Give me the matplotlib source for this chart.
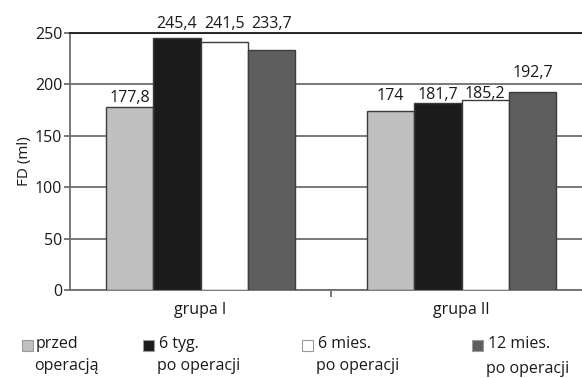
import matplotlib.pyplot as plt
from matplotlib.patches import Rectangle

plt.rcParams['font.family'] = ['Open Sans', 'DejaVu Sans']

# --- data --------------------------------------------------------------
groups = ["grupa I", "grupa II"]
series = ["przed\noperacją", "6 tyg.\npo operacji", "6 mies.\npo operacji", "12 mies.\npo operacji"]
przed = [177.8, 174]
tyg6 = [245.4, 181.7]
mies6 = [241.5, 185.2]
mies12 = [233.7, 192.7]
value_text = [["177,8", "174"], ["245,4", "181,7"], ["241,5", "185,2"], ["233,7", "192,7"]]
# gap (px) between bar top and label baseline, per series / group
label_gap = [[5, 11], [10, 4], [14, 2], [22, 15]]

colors = ["#c0c0c0", "#1c1c1c", "#ffffff", "#5e5e5e"]
edge = "#3c3c3c"
grid_c = "#6e6e6e"

fig = plt.figure(figsize=(5.82, 3.78), dpi=100)
ax = fig.add_axes([70 / 582, 1 - 290 / 378, 522 / 582, 257 / 378])

width = 0.181
xs = range(len(groups))
for i, vals in enumerate([przed, tyg6, mies6, mies12]):
    pos = [x + (i - 1.5) * width for x in xs]
    bars = ax.bar(pos, vals, width=width, color=colors[i], edgecolor=edge,
                  linewidth=1.0, zorder=3)
    for j, (b, txt) in enumerate(zip(bars, value_text[i])):
        ax.annotate(txt, (b.get_x() + b.get_width() / 2, b.get_height()),
                    xytext=(0, label_gap[i][j] * 0.72), textcoords="offset points",
                    ha="center", va="baseline", fontsize=11.5, color="#1a1a1a")

ax.set_xlim(-0.5, 1.5)
ax.set_ylim(0, 250)
ax.set_yticks(range(0, 251, 50))
ax.yaxis.grid(True, color=grid_c, linewidth=1.3, zorder=0)
ax.set_axisbelow(True)

ax.set_xticks(list(xs))
ax.set_xticklabels(groups, fontsize=11.5, color="#1a1a1a")
ax.set_xticks([0.5], minor=True)
ax.tick_params(axis="x", which="major", length=0, pad=9)
ax.tick_params(axis="x", which="minor", length=5, width=1.3, color=grid_c)
ax.tick_params(axis="y", length=4.5, width=1.3, color=grid_c, labelsize=11.5,
               labelcolor="#1a1a1a", pad=1)

for s in ["left", "bottom"]:
    ax.spines[s].set_color(grid_c)
    ax.spines[s].set_linewidth(1.3)
ax.spines["right"].set_visible(False)
ax.spines["top"].set_color("#1a1a1a")
ax.spines["top"].set_linewidth(1.3)

ax.set_ylabel("FD (ml)", fontsize=11, color="#1a1a1a", labelpad=2)

# --- legend drawn by hand below the axes -------------------------------
box_x = [22, 143, 302, 472]
text_x = [36, 159, 318, 488]
line2_y = [366, 366, 366, 369]
for i, lab in enumerate(series):
    top, bottom = lab.split("\n")
    fig.patches.append(Rectangle((box_x[i] / 582, 1 - 351 / 378), 11 / 582, 11 / 378,
                                 transform=fig.transFigure, facecolor=colors[i],
                                 edgecolor="#9a9a9a", linewidth=0.8))
    fig.text(text_x[i] / 582, 1 - 344 / 378, top, fontsize=11.5,
             va="center", ha="left", color="#1a1a1a")
    fig.text((text_x[i] - 2) / 582, 1 - line2_y[i] / 378, bottom, fontsize=11.5,
             va="center", ha="left", color="#1a1a1a")

fig.savefig("out.png", dpi=100)
